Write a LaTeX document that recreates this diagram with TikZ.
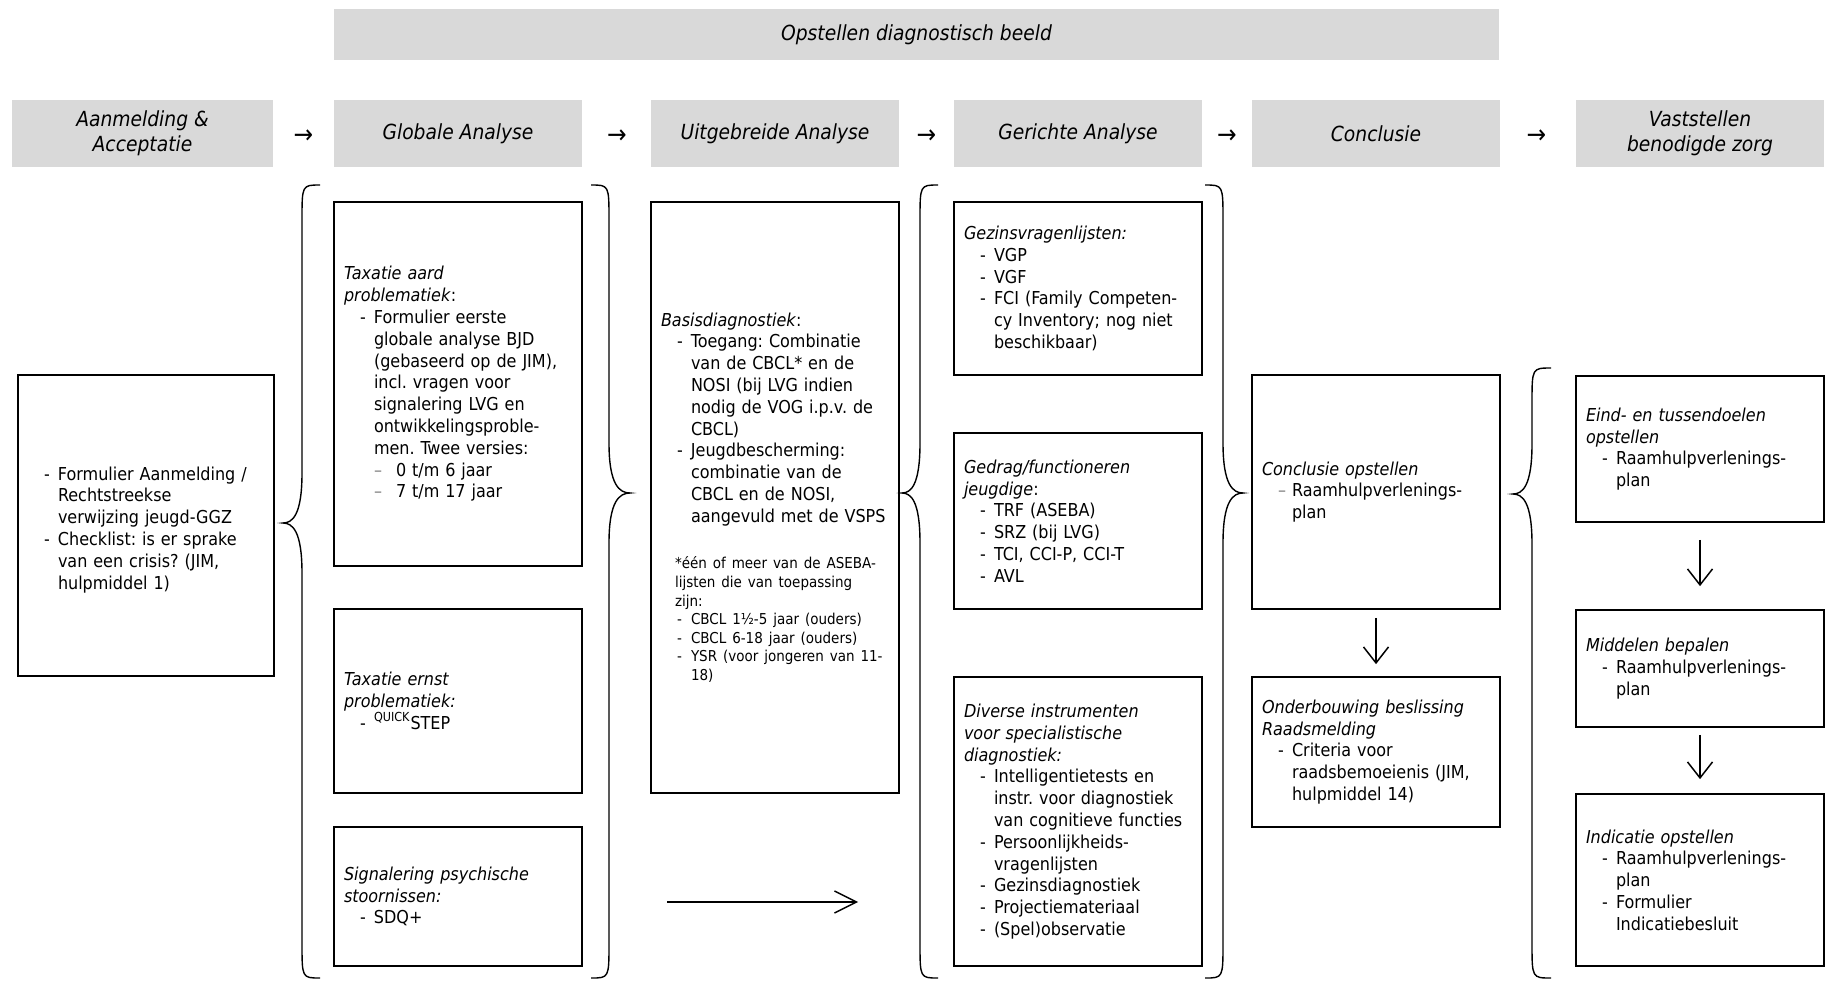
\documentclass[tikz,border=0pt]{standalone}
\usepackage{fontspec}
\setmainfont{DejaVuSansCondensed}[Extension=.ttf,UprightFont=*,BoldFont=*-Bold,ItalicFont=*-Oblique,BoldItalicFont=*-BoldOblique]
\usetikzlibrary{arrows.meta}
\frenchspacing

\definecolor{headgray}{RGB}{217,217,217}

\newcommand\colw{124pt}
\newcommand\txtw{114pt}
\newcommand\bodyfont{\fontsize{8.9}{10.9}\selectfont}
\newcommand\notefont{\fontsize{7.5}{9.3}\selectfont}
\newcommand\headfont{\fontsize{10.4}{12.5}\selectfont\itshape}
\newcommand\itm[2][-]{\par\hangindent=15pt\hangafter=1\noindent\hspace*{8pt}\makebox[7pt][l]{#1}#2}
\newcommand\subitm[1]{\par\hangindent=26pt\hangafter=1\noindent\hspace*{15pt}\makebox[11pt][l]{\textcolor{gray}{--}}#1}
\newcommand\drawbrace[6]{%
  \draw[brace] (#1,#4) .. controls (#2,#4) .. (#2,#4+35)
    -- (#2,#5-50) .. controls (#2,#5-8) and ({0.5*#2+0.5*#3},#5) .. (#3,#5)
    .. controls ({0.5*#2+0.5*#3},#5) and (#2,#5+8) .. (#2,#5+50)
    -- (#2,#6-35) .. controls (#2,#6) .. (#1,#6);}

\tikzset{
  headbox/.style={fill=headgray,minimum height=33.5pt,align=center,font=\headfont,inner sep=1pt},
  cbox/.style={draw,line width=0.85pt,text width=\txtw,inner xsep=5pt,align=left,font=\bodyfont,
    execute at begin node={\parindent=0pt}},
  harrow/.style={font=\fontsize{13}{15}\selectfont},
  brace/.style={line width=0.7pt},
  downarrow/.style={line width=0.75pt,-{Straight Barb[length=8pt,width=12.5pt]}}
}

\begin{document}
\begin{tikzpicture}[x=0.5pt,y=-0.5pt]
  \useasboundingbox (0,0) rectangle (1831,980);

  \node[headbox,minimum width=582.5pt,minimum height=25.5pt] (beeld) at (916.5,34.5) {Opstellen diagnostisch beeld};

  \node[headbox,minimum width=130.5pt] (hacc) at (142.5,133.5) {Aanmelding \&\\Acceptatie};
  \node[headbox,minimum width=\colw] (hglob) at (458,133.5) {Globale Analyse};
  \node[headbox,minimum width=\colw] (huitg) at (775,133.5) {Uitgebreide Analyse};
  \node[headbox,minimum width=\colw] (hgericht) at (1078,133.5) {Gerichte Analyse};
  \node[headbox,minimum width=\colw] (hconcl) at (1376,133.5) {Conclusie};
  \node[headbox,minimum width=\colw] (hzorg) at (1700,133.5) {Vaststellen\\benodigde zorg};

  \node[harrow] (pijl1) at (303.5,137) {→};
  \node[harrow] (pijl2) at (617,137) {→};
  \node[harrow] (pijl3) at (926.5,137) {→};
  \node[harrow] (pijl4) at (1227,137) {→};
  \node[harrow] (pijl5) at (1536.5,137) {→};

  \node[cbox,text width=118pt,minimum height=150.5pt] (aanmelding) at (146,525.5) {%
    \itm{Formulier Aanmelding /\newline Rechtstreekse\newline verwijzing jeugd-GGZ}
    \itm{Checklist: is er sprake\newline van een crisis? (JIM,\newline hulpmiddel 1)}\par};

  \node[cbox,minimum height=182pt] (aard) at (458,384) {%
    \textit{Taxatie aard\newline problematiek}:
    \itm{Formulier eerste\newline globale analyse BJD\newline (gebaseerd op de JIM),\newline incl. vragen voor\newline signalering LVG en\newline ontwikkelingsproble-\newline men. Twee versies:}
    \subitm{0 t/m 6 jaar}
    \subitm{7 t/m 17 jaar}\par};
  \node[cbox,minimum height=92pt] (ernst) at (458,701) {%
    \textit{Taxatie ernst\newline problematiek:}
    \itm{\textsuperscript{QUICK}STEP}\par};
  \node[cbox,minimum height=69.5pt] (signal) at (458,896.5) {%
    \textit{Signalering psychische\newline stoornissen:}
    \itm{SDQ+}\par};

  \node[cbox,minimum height=295.5pt] (basis) at (775,497.5) {%
    \textit{Basisdiagnostiek}:
    \itm{Toegang: Combinatie\newline van de CBCL* en de\newline NOSI (bij LVG indien\newline nodig de VOG i.p.v. de\newline CBCL)}
    \itm{Jeugdbescherming:\newline combinatie van de\newline CBCL en de NOSI,\newline aangevuld met de VSPS}
    \par\vspace{14pt}\notefont\leftskip=7pt
    *één of meer van de ASEBA-\newline lijsten die van toepassing\newline zijn:\par\leftskip=0pt
    \itm{CBCL 1½-5 jaar (ouders)}
    \itm{CBCL 6-18 jaar (ouders)}
    \itm{YSR (voor jongeren van 11-\newline 18)}\par};

  \node[cbox,minimum height=86.5pt] (gezin) at (1078,288.5) {%
    \textit{Gezinsvragenlijsten:}
    \itm{VGP}
    \itm{VGF}
    \itm{FCI (Family Competen-\newline cy Inventory; nog niet\newline beschikbaar)}\par};
  \node[cbox,minimum height=88pt] (gedrag) at (1078,521) {%
    \textit{Gedrag/functioneren\newline jeugdige}:
    \itm{TRF (ASEBA)}
    \itm{SRZ (bij LVG)}
    \itm{TCI, CCI-P, CCI-T}
    \itm{AVL}\par};
  \node[cbox,minimum height=144.5pt] (divers) at (1078,821.5) {%
    \textit{Diverse instrumenten\newline voor specialistische\newline diagnostiek:}
    \itm{Intelligentietests en\newline instr. voor diagnostiek\newline van cognitieve functies}
    \itm{Persoonlijkheids-\newline vragenlijsten}
    \itm{Gezinsdiagnostiek}
    \itm{Projectiemateriaal}
    \itm{(Spel)observatie}\par};

  \node[cbox,minimum height=117pt] (conclusie) at (1376,492) {%
    \textit{Conclusie opstellen}
    \itm[\textcolor{gray}{--}]{Raamhulpverlenings-\newline plan}\par};
  \node[cbox,minimum height=75pt] (raad) at (1376,752) {%
    \textit{Onderbouwing beslissing\newline Raadsmelding}
    \itm{Criteria voor\newline raadsbemoeienis (JIM,\newline hulpmiddel 14)}\par};

  \node[cbox,minimum height=73pt] (doelen) at (1700,449) {%
    \textit{Eind- en tussendoelen\newline opstellen}
    \itm{Raamhulpverlenings-\newline plan}\par};
  \node[cbox,minimum height=58.5pt] (middelen) at (1700,668.5) {%
    \textit{Middelen bepalen}
    \itm{Raamhulpverlenings-\newline plan}\par};
  \node[cbox,minimum height=86pt] (indicatie) at (1700,880) {%
    \textit{Indicatie opstellen}
    \itm{Raamhulpverlenings-\newline plan}
    \itm{Formulier\newline Indicatiebesluit}\par};

  \drawbrace{320}{302}{283}{185}{523}{978}
  \drawbrace{591}{609}{630}{185}{493}{978}
  \drawbrace{938}{920}{902}{185}{493}{978}
  \drawbrace{1205}{1223}{1243}{185}{493}{978}
  \drawbrace{1551}{1532}{1513}{368}{494}{978}

  \coordinate (naar) at (667,902);
  \draw[line width=0.75pt,-{Straight Barb[length=11pt,width=11pt]},shorten >=47.5pt] (naar) -- (naar -| divers.west);

  \draw[downarrow,shorten <=4pt,shorten >=6pt] (conclusie) -- (raad);
  \draw[downarrow,shorten <=8.5pt,shorten >=11.5pt] (doelen) -- (middelen);
  \draw[downarrow,shorten <=3.5pt,shorten >=7pt] (middelen) -- (indicatie);
\end{tikzpicture}
\end{document}
